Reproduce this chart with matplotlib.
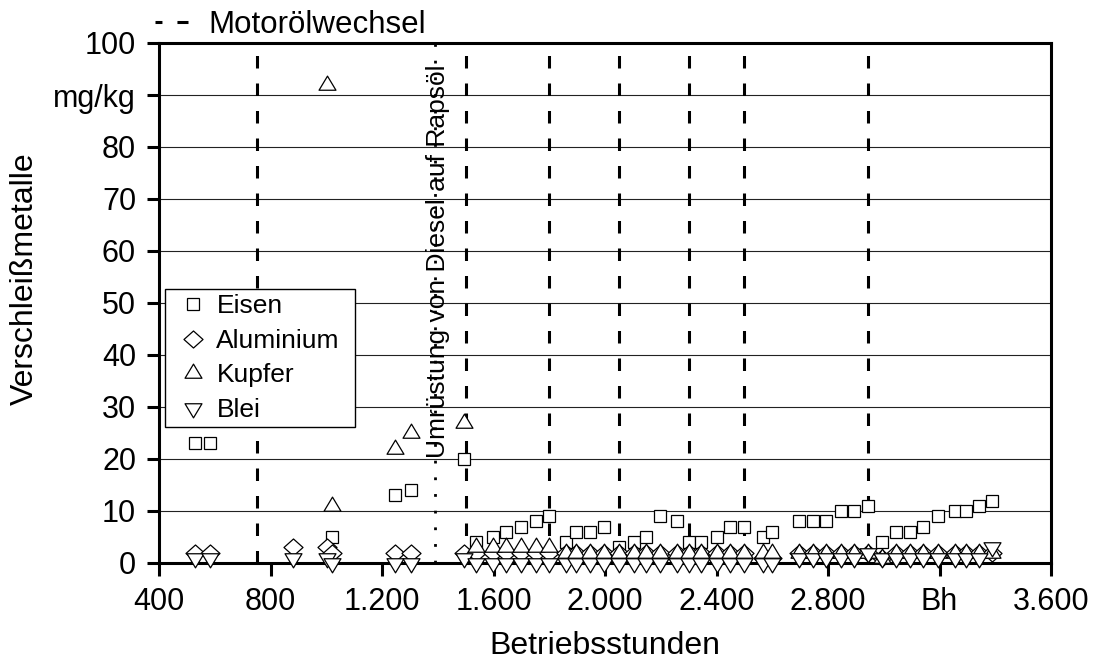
import numpy as np
import matplotlib
matplotlib.use("Agg")
import matplotlib.pyplot as plt
from matplotlib.lines import Line2D
from matplotlib.path import Path

plt.rcParams['font.family'] = ['Liberation Sans', 'DejaVu Sans']
plt.rcParams['lines.scale_dashes'] = False

nan = np.nan

# Ölproben: Betriebsstunden und Verschleißmetalle in mg/kg
stunden = [529, 583, 881, 1002, 1019, 1248, 1303, 1494,
           1539, 1597, 1646, 1697, 1751, 1799,
           1859, 1897, 1947, 1995,
           2049, 2103, 2148, 2196, 2258,
           2303, 2345, 2402, 2449, 2498,
           2566, 2598,
           2697, 2745, 2793, 2846, 2892, 2942,
           2992, 3043, 3094, 3142, 3196, 3255, 3294, 3343, 3387]
eisen = [23, 23, nan, nan, 5, 13, 14, 20,
         4, 5, 6, 7, 8, 9,
         4, 6, 6, 7,
         3, 4, 5, 9, 8,
         4, 4, 5, 7, 7,
         5, 6,
         8, 8, 8, 10, 10, 11,
         4, 6, 6, 7, 9, 10, 10, 11, 12]
aluminium = [2, 2, 3, 3, 2, 2, 2, 2,
             2, 2, 2, 2, 2, 2,
             2, 2, 2, 2,
             2, 2, 2, 2, 2,
             2, 2, 2, 2, 2,
             1, 1,
             2, 2, 2, 2, 2, 2,
             1, 2, 2, 2, 2, 2, 2, 2, 2]
kupfer = [nan, nan, nan, 92, 11, 22, 25, 27,
          3, 3, 3, 3, 3, 3,
          2, 2, 2, 2,
          2, 2, 2, 2, 2,
          2, 2, 2, 2, 2,
          2, 2,
          2, 2, 2, 2, 2, 2,
          1, 2, 2, 2, 2, 2, 2, 2, 2]
blei = [1, 1, 1, 1, 0, 0, 0, 1,
        0, 0, 0, 0, 0, 0,
        0, 0, 0, 0,
        0, 0, 0, 0, 0,
        0, 0, 0, 0, 0,
        0, 0,
        1, 1, 1, 1, 1, 2,
        1, 1, 1, 1, 1, 1, 1, 1, 3]

# Motorölwechsel und Umstellung auf Rapsöl (Bh)
oelwechsel = [750, 1500, 1800, 2050, 2300, 2500, 2945]
umruestung = 1390

x_ticks = [400, 800, 1200, 1600, 2000, 2400, 2800, 3200, 3600]
x_labels = ['400', '800', '1.200', '1.600', '2.000', '2.400', '2.800', 'Bh', '3.600']
y_ticks = [0, 10, 20, 30, 40, 50, 60, 70, 80, 90, 100]
y_labels = ['0', '10', '20', '30', '40', '50', '60', '70', '80', 'mg/kg', '100']


def marker_path(verts):
    verts = list(verts) + [verts[0]]
    codes = [Path.MOVETO] + [Path.LINETO] * (len(verts) - 2) + [Path.CLOSEPOLY]
    return Path(verts, codes)


# Dreiecke wie in Excel: breiter als hoch, Schwerpunkt auf dem Messwert
tri_up = marker_path([(0, 9.3), (-8.4, -4.7), (8.4, -4.7)])
tri_down = marker_path([(0, -9.3), (-8.4, 4.7), (8.4, 4.7)])
raute = marker_path([(0, 8.5), (9.5, 0), (0, -8.5), (-9.5, 0)])

fig = plt.figure(figsize=(10.93, 6.59), dpi=100)
ax = fig.add_axes([159 / 1093, 96 / 659, 892 / 1093, 520 / 659])

ax.set_xlim(400, 3600)
ax.set_ylim(0, 100)
ax.grid(axis='y', color='#222222', lw=0.8)
ax.set_axisbelow(True)

for x in oelwechsel:
    ax.axvline(x, color='k', lw=2.2, dashes=(9, 10.8), zorder=2)
ax.axvline(umruestung, color='k', lw=2.0, dashes=(2, 10), zorder=2)

style = dict(linestyle='none', mfc='white', mec='black', mew=0.9, clip_on=False, zorder=3)
ax.plot(stunden, eisen, marker='s', ms=8.8, label='Eisen', **style)
ax.plot(stunden, aluminium, marker=raute, ms=13.7, label='Aluminium', **style)
ax.plot(stunden, kupfer, marker=tri_up, ms=13.5, label='Kupfer', **style)
ax.plot(stunden, blei, marker=tri_down, ms=13.5, label='Blei', **style)

ax.text(1400, 58, 'Umrüstung von Diesel auf Rapsöl', rotation=90,
        ha='center', va='center', fontsize=19, zorder=4)

ax.set_xticks(x_ticks)
ax.set_xticklabels(x_labels)
ax.set_yticks(y_ticks)
ax.set_yticklabels(y_labels)
ax.tick_params(axis='both', direction='out', length=9, width=2.2, labelsize=22)
ax.tick_params(axis='x', pad=8)
ax.tick_params(axis='y', pad=7.5)
for sp in ax.spines.values():
    sp.set_linewidth(2.2)

ax.set_xlabel('Betriebsstunden', fontsize=23)
ax.xaxis.set_label_coords(0.5, -0.131)
ax.set_ylabel('Verschleißmetalle', fontsize=23)
ax.yaxis.set_label_coords(-0.1334, 0.546)

leg = ax.legend(loc='upper left', bbox_to_anchor=(0.0067, 0.267, 0.213, 0.26),
                mode='expand', borderaxespad=0, fontsize=19, fancybox=False,
                edgecolor='k', framealpha=1, borderpad=0.2, labelspacing=0.4,
                handlelength=1.7, handletextpad=0.05, numpoints=1)
leg.get_frame().set_linewidth(1.0)

oel_handle = Line2D([], [], color='k', lw=2.2, linestyle=(4, (9, 10.8)))
fig.legend(handles=[oel_handle], labels=['Motorölwechsel'], loc='center left',
           bbox_to_anchor=(155 / 1093, 1 - 25 / 659), frameon=False, fontsize=22.5,
           handlelength=1.05, handletextpad=0.65, borderpad=0, borderaxespad=0)

fig.savefig('out.png', dpi=100)
